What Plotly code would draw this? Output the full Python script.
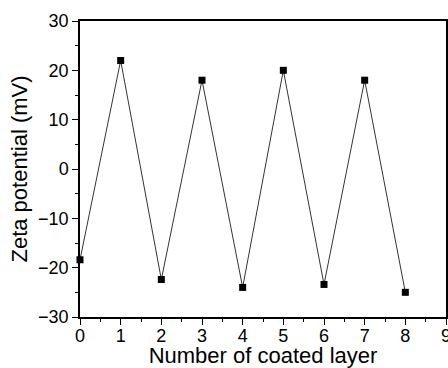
import plotly.graph_objects as go

layers = [0, 1, 2, 3, 4, 5, 6, 7, 8]
zeta = [-18.4, 22.0, -22.4, 18.0, -24.0, 20.0, -23.4, 18.0, -25.0]

fig = go.Figure()
fig.add_trace(go.Scatter(
    x=layers, y=zeta, mode="lines+markers",
    line=dict(color="black", width=0.8),
    marker=dict(symbol="square", size=7, color="black"),
    showlegend=False, cliponaxis=False,
))

fam = "Liberation Sans, Arial, sans-serif"
fig.update_layout(
    width=448, height=368,
    margin=dict(l=80, r=2, t=21, b=51),
    paper_bgcolor="white", plot_bgcolor="white",
    font=dict(family=fam, color="black"),
)
fig.update_xaxes(
    range=[0, 9], tick0=0, dtick=1, automargin=False,
    showgrid=False, zeroline=False,
    showline=True, linecolor="black", linewidth=1.5, mirror=True,
    ticks="outside", ticklen=6, tickwidth=1.2, tickcolor="black",
    minor=dict(ticks="outside", ticklen=3, tickwidth=1, tickcolor="black", dtick=0.5, showgrid=False),
    tickfont=dict(size=18, family=fam, color="black"),
    ticklabeloverflow="allow", ticklabelstandoff=-4,
    title=dict(text="Number of coated layer", font=dict(size=22, family=fam, color="black"), standoff=8),
)
fig.update_yaxes(
    range=[-30, 30], tick0=-30, dtick=10, automargin=False,
    showgrid=False, zeroline=False,
    showline=True, linecolor="black", linewidth=1.5, mirror=True,
    ticks="outside", ticklen=6, tickwidth=1.2, tickcolor="black",
    minor=dict(ticks="outside", ticklen=3, tickwidth=1, tickcolor="black", dtick=5, showgrid=False),
    tickfont=dict(size=18, family=fam, color="black"),
    ticklabeloverflow="allow",
    title=dict(text="Zeta potential (mV)", font=dict(size=22, family=fam, color="black"), standoff=4),
)

fig.write_html("out.html")
